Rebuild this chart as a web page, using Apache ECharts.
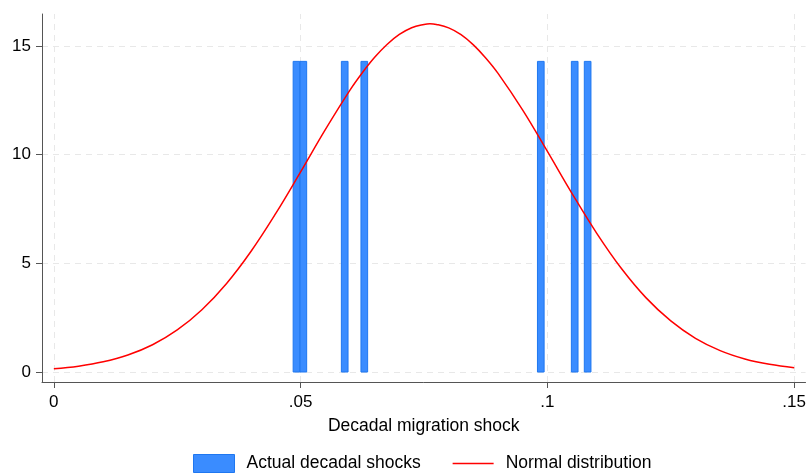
<!DOCTYPE html>
<html><head><meta charset="utf-8">
<script src="https://cdn.jsdelivr.net/npm/echarts@6/dist/echarts.min.js"></script>
<style>html,body{margin:0;padding:0;background:#fff}#c{width:809px;height:474px}</style>
</head><body><div id="c"></div>
<script>
// Histogram bars (bin centers, common bin width, density height)
const barCenters = [0.04916, 0.05055, 0.05893, 0.0629, 0.09866, 0.10553, 0.10815];
const barWidth = 0.00135;
const barHeights = [14.29, 14.29, 14.29, 14.29, 14.29, 14.29, 14.29];
// Normal density curve
const curveX = [0, 0.005, 0.01, 0.015, 0.02, 0.025, 0.03, 0.035, 0.04, 0.045, 0.05, 0.055, 0.06, 0.0625, 0.065, 0.0675, 0.07, 0.0725, 0.075, 0.0762, 0.0775, 0.08, 0.0825, 0.085, 0.0875, 0.09, 0.095, 0.1, 0.105, 0.11, 0.115, 0.12, 0.125, 0.13, 0.135, 0.14, 0.145, 0.15];
const curveY = [0.148, 0.269, 0.467, 0.781, 1.254, 1.935, 2.866, 4.074, 5.567, 7.307, 9.208, 11.15, 12.97, 13.77, 14.48, 15.07, 15.53, 15.84, 15.99, 16.02, 15.99, 15.83, 15.52, 15.05, 14.45, 13.74, 12.05, 10.15, 8.21, 6.38, 4.76, 3.41, 2.35, 1.55, 0.985, 0.601, 0.352, 0.198];
const xTicks = [0, 0.05, 0.1, 0.15];
const xTickLabels = ['0', '.05', '.1', '.15'];
const yTicks = [0, 5, 10, 15];
const xTitle = 'Decadal migration shock';
const seriesNames = ['Actual decadal shocks', 'Normal distribution'];

const chart = echarts.init(document.getElementById('c'), null, {renderer: 'canvas'});
const font = 'Liberation Sans, Arial, sans-serif';
const gridStyle = {color: '#e8e8e8', width: 1, type: [6, 5]};

const barData = barCenters.map((c, i) => [c - barWidth / 2, c + barWidth / 2, barHeights[i]]);
const lineData = curveX.map((x, i) => [x, curveY[i]]);

chart.setOption({
  animation: false,
  backgroundColor: '#fff',
  grid: {left: 42, right: 1, top: 14, bottom: 92, containLabel: false},
  xAxis: {
    type: 'value', min: -0.0024, max: 0.1523,
    axisLine: {show: true, onZero: false, lineStyle: {color: '#555', width: 1}},
    axisTick: {show: true, length: 6, lineStyle: {color: '#555'}, customValues: xTicks},
    axisLabel: {customValues: xTicks, margin: 12, color: '#000', fontSize: 17, fontFamily: font,
      formatter: v => { const i = xTicks.findIndex(t => Math.abs(t - v) < 1e-9); return i >= 0 ? xTickLabels[i] : ''; }},
    splitLine: {show: false},
    name: xTitle, nameLocation: 'middle', nameGap: 35,
    nameTextStyle: {color: '#000', fontSize: 17.5, fontFamily: font}
  },
  yAxis: {
    type: 'value', min: -0.46, max: 16.47,
    axisLine: {show: true, onZero: false, lineStyle: {color: '#555', width: 1}},
    axisTick: {show: true, length: 6, lineStyle: {color: '#555'}, customValues: yTicks},
    axisLabel: {customValues: yTicks, margin: 11, color: '#000', fontSize: 17, fontFamily: font},
    splitLine: {show: false}
  },
  legend: {
    left: 193, top: 454, padding: 0, itemWidth: 41, itemHeight: 18, itemGap: 32,
    textStyle: {color: '#000', fontSize: 17.5, fontFamily: font, padding: [0, 0, 0, 7]},
    data: [
      {name: seriesNames[0], icon: 'rect', itemStyle: {color: '#3a8cff', borderColor: '#1f77f0', borderWidth: 1}},
      {name: seriesNames[1], icon: 'path://M0 0H40V1.5H0Z', symbolKeepAspect: true,
        itemStyle: {color: '#ff0000', borderWidth: 0}}
    ]
  },
  series: [
    {
      type: 'line', name: '_grid', silent: true, data: [], z: 0,
      markLine: {silent: true, symbol: 'none', label: {show: false}, lineStyle: gridStyle, z: 0,
        data: xTicks.map(v => ({xAxis: v})).concat(yTicks.map(v => ({yAxis: v})))}
    },
    {
      type: 'custom', name: seriesNames[0], data: barData, z: 3,
      encode: {x: [0, 1], y: 2},
      itemStyle: {color: '#3a8cff', borderColor: '#1f77f0', borderWidth: 1},
      renderItem: (params, api) => {
        const p0 = api.coord([api.value(0), api.value(2)]);
        const p1 = api.coord([api.value(1), 0]);
        return {type: 'rect', shape: {x: p0[0], y: p0[1], width: p1[0] - p0[0], height: p1[1] - p0[1]},
          style: {fill: '#3a8cff', stroke: '#1f77f0', lineWidth: 1}};
      }
    },
    {
      type: 'line', name: seriesNames[1], data: lineData, smooth: 0.4, symbol: 'none', z: 4,
      lineStyle: {color: '#ff0000', width: 1.5}, itemStyle: {color: '#ff0000'}
    }
  ]
});
</script></body></html>
